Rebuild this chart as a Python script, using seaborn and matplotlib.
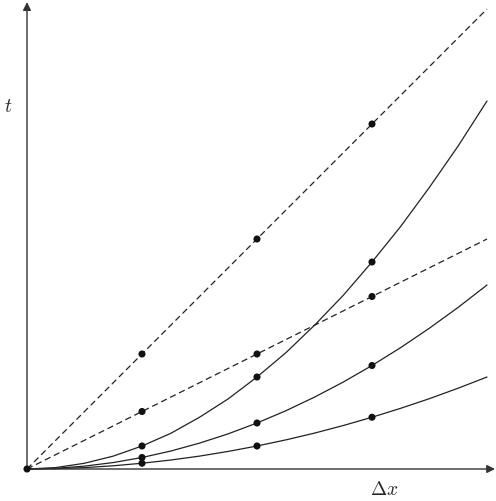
import matplotlib
matplotlib.use("Agg")
import matplotlib.pyplot as plt
import numpy as np
import pandas as pd
import seaborn as sns

# sample positions along dx (fine grid for the curves, marked points separately)
dx = [0, 0.25, 0.5, 0.75, 1, 1.25, 1.5, 1.75, 2, 2.25, 2.5, 2.75, 3, 3.25, 3.5, 3.75, 4]
dashed_steep = [0, 0.25, 0.5, 0.75, 1, 1.25, 1.5, 1.75, 2, 2.25, 2.5, 2.75, 3, 3.25, 3.5, 3.75, 4]
dashed_flat = [0, 0.125, 0.25, 0.375, 0.5, 0.625, 0.75, 0.875, 1, 1.125, 1.25, 1.375, 1.5, 1.625, 1.75, 1.875, 2]
solid_top = [0, 0.012, 0.05, 0.112, 0.2, 0.31, 0.45, 0.61, 0.8, 1.01, 1.25, 1.51, 1.8, 2.11, 2.45, 2.81, 3.2]
solid_mid = [0, 0.006, 0.025, 0.056, 0.1, 0.156, 0.225, 0.306, 0.4, 0.506, 0.625, 0.756, 0.9, 1.056, 1.225, 1.406, 1.6]
solid_low = [0, 0.003, 0.012, 0.028, 0.05, 0.078, 0.112, 0.153, 0.2, 0.253, 0.312, 0.378, 0.45, 0.528, 0.612, 0.703, 0.8]

marked_dx = [1, 2, 3]
marked = {
    "dashed_steep": [1, 2, 3],
    "dashed_flat": [0.5, 1, 1.5],
    "solid_top": [0.2, 0.8, 1.8],
    "solid_mid": [0.1, 0.4, 0.9],
    "solid_low": [0.05, 0.2, 0.45],
}

curves = pd.DataFrame({
    "dx": dx * 5,
    "t": dashed_steep + dashed_flat + solid_top + solid_mid + solid_low,
    "curve": sum([[n] * len(dx) for n in ["dashed_steep", "dashed_flat", "solid_top", "solid_mid", "solid_low"]], []),
})
pts = pd.DataFrame({
    "dx": [0] + marked_dx * 5,
    "t": [0] + sum(marked.values(), []),
})

sns.set_style("white")
plt.rcParams["mathtext.fontset"] = "cm"

fig = plt.figure(figsize=(4.96, 5.02), dpi=100)
ax = fig.add_axes([0, 0, 1, 1])

dash = (0, (5, 3))
for name, ls in [("dashed_steep", dash), ("dashed_flat", dash),
                 ("solid_top", "-"), ("solid_mid", "-"), ("solid_low", "-")]:
    sub = curves[curves["curve"] == name]
    sns.lineplot(data=sub, x="dx", y="t", ax=ax, color="#222222", lw=0.9,
                 linestyle=ls, estimator=None, sort=False)

sns.scatterplot(data=pts, x="dx", y="t", ax=ax, color="#111111", s=26,
                edgecolor="none", zorder=5)

# axes with arrows
x_min, x_max = -27 / 115, (496 - 27) / 115
y_min, y_max = -32 / 115, 470 / 115
ax.set_xlim(x_min, x_max)
ax.set_ylim(y_min, y_max)
arrow = dict(arrowstyle="-|>", color="#333333", lw=1.0, mutation_scale=12,
             shrinkA=0, shrinkB=0)
ax.annotate("", xy=(4.07, 0), xytext=(0, 0), arrowprops=arrow)
ax.annotate("", xy=(0, 4.06), xytext=(0, 0), arrowprops=arrow)

ax.text(-0.165, 3.16, r"$t$", fontsize=14, ha="center", va="center")
ax.text(3.11, -0.17, r"$\Delta x$", fontsize=14, ha="center", va="center")

ax.set_xlabel("")
ax.set_ylabel("")
ax.set_xticks([])
ax.set_yticks([])
for s in ax.spines.values():
    s.set_visible(False)

fig.savefig("out.png", dpi=100)
